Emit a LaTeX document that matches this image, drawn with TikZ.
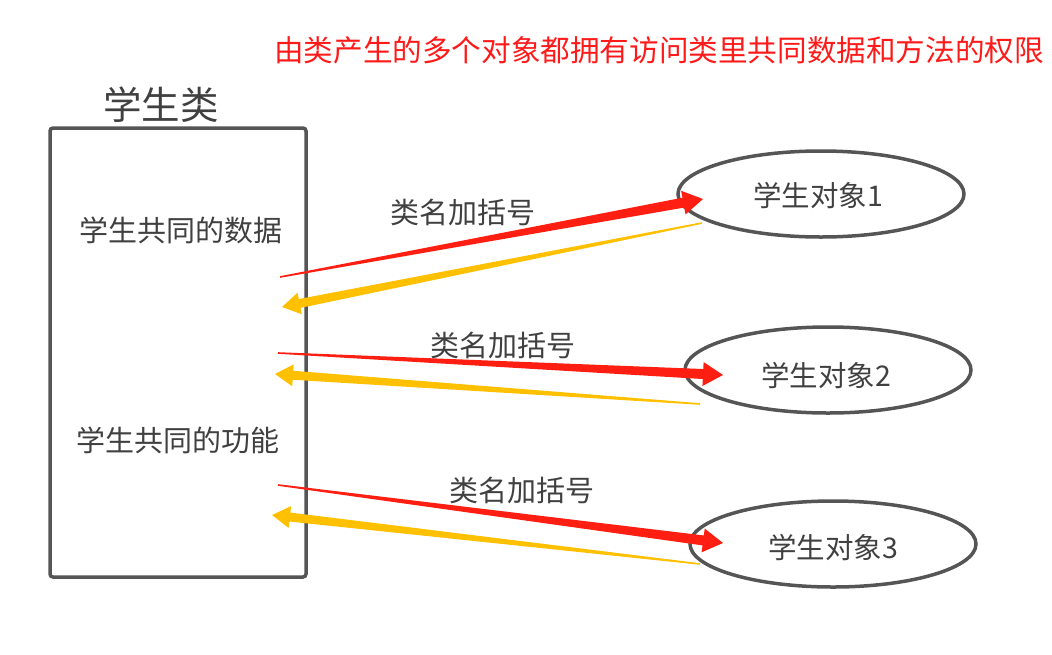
\documentclass[tikz,border=0pt]{standalone}
\usepackage{fontspec}
\newfontfamily\cjk{Noto Sans CJK SC}
\usetikzlibrary{calc,shapes.geometric}
\definecolor{boxgray}{HTML}{555555}
\definecolor{txtgray}{HTML}{404040}
\definecolor{arrred}{HTML}{FF1E12}
\definecolor{arryel}{HTML}{FFC000}
\definecolor{titred}{HTML}{FF1A1A}
% #1 start, #2 tip, #3 colour, #4 tail half width, #5 shaft half width, #6 head half width, #7 head length
\newcommand\taperarrow[7]{%
  \coordinate (tah) at ($(#2)!#7!(#1)$);
  \fill[#3] ($(#1)!#4!90:(#2)$) -- ($(tah)!#5!90:(#2)$) -- ($(tah)!#6!90:(#2)$) -- (#2)
    -- ($(tah)!#6!-90:(#2)$) -- ($(tah)!#5!-90:(#2)$) -- ($(#1)!#4!-90:(#2)$) -- cycle;
}
\begin{document}
\begin{tikzpicture}[x=1pt,y=-1pt,
  txt/.style={font=\cjk\fontsize{29}{34}\selectfont, text=txtgray, inner sep=0},
  objtxt/.style={font=\cjk\fontsize{28.5}{33}\selectfont, text=txtgray},
  obj/.style={ellipse, draw=boxgray, line width=3.5pt, inner sep=0, minimum width=286pt, minimum height=86pt},
]
\useasboundingbox (0,0) rectangle (1052,654);

\node[font=\cjk\fontsize{29.6}{34}\selectfont, text=titred, inner sep=0] (title) at (659,50) {由类产生的多个对象都拥有访问类里共同数据和方法的权限};

\node[font=\cjk\fontsize{38.5}{44}\selectfont, text=txtgray, inner sep=0] (clsname) at (161,105) {学生类};
\node[draw=boxgray, line width=3.5pt, rounded corners=3pt, minimum width=256pt, minimum height=449pt, inner sep=0] (cls) at (178,352.5) {};
\node[txt] (data) at (181,230) {学生共同的数据};
\node[txt] (func) at (178,440) {学生共同的功能};

\node[obj] (o1) at (821,194) {};
\node[objtxt] at (818,196) {学生对象1};
\node[obj] (o2) at (828,370) {};
\node[objtxt] at (826,376) {学生对象2};
\node[obj] (o3) at (833,544) {};
\node[objtxt] at (833,548) {学生对象3};

\coordinate (r1s) at (280,277); \coordinate (r1t) at (703,199);
\coordinate (y1s) at (702,223); \coordinate (y1t) at (282,307);
\coordinate (r2s) at (278,353); \coordinate (r2t) at (723,375);
\coordinate (y2s) at (700,404); \coordinate (y2t) at (275,374);
\coordinate (r3s) at (278,485); \coordinate (r3t) at (723,543);
\coordinate (y3s) at (700,564); \coordinate (y3t) at (272,515);

\taperarrow{r1s}{r1t}{arrred}{0.8pt}{5pt}{12pt}{20pt}
\taperarrow{y1s}{y1t}{arryel}{0.8pt}{4.5pt}{11pt}{18pt}
\taperarrow{r2s}{r2t}{arrred}{0.8pt}{5pt}{12pt}{20pt}
\taperarrow{y2s}{y2t}{arryel}{0.8pt}{4.5pt}{11pt}{18pt}
\taperarrow{r3s}{r3t}{arrred}{0.8pt}{5pt}{12pt}{20pt}
\taperarrow{y3s}{y3t}{arryel}{0.8pt}{4.5pt}{11pt}{18pt}

\node[txt] (l1) at (463,212) {类名加括号};
\node[txt] (l2) at (503,345) {类名加括号};
\node[txt] (l3) at (522,490) {类名加括号};
\end{tikzpicture}
\end{document}
